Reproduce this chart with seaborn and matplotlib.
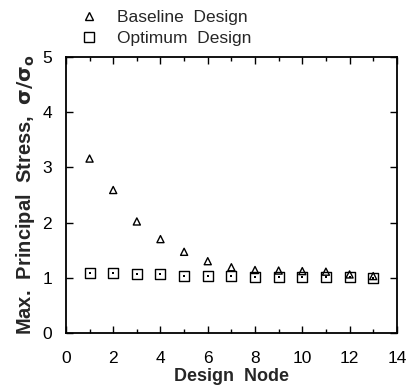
import matplotlib
matplotlib.use("Agg")
import matplotlib.pyplot as plt
import seaborn as sns
import pandas as pd
from matplotlib.ticker import MultipleLocator
from matplotlib.lines import Line2D

nodes = [1, 2, 3, 4, 5, 6, 7, 8, 9, 10, 11, 12, 13]
baseline = [3.16, 2.59, 2.02, 1.70, 1.47, 1.30, 1.19, 1.14, 1.13, 1.12, 1.11, 1.06, 1.03]
optimum = [1.08, 1.08, 1.07, 1.06, 1.04, 1.03, 1.03, 1.02, 1.02, 1.02, 1.02, 1.01, 1.00]

sns.set_theme(style="ticks")
plt.rcParams['font.family'] = ['Liberation Sans', 'DejaVu Sans']

df = pd.DataFrame({
    "node": nodes * 2,
    "value": baseline + optimum,
    "series": ["Baseline Design"] * len(nodes) + ["Optimum Design"] * len(nodes),
})

fig = plt.figure(figsize=(4.07, 3.88), dpi=100)
ax = fig.add_axes([0.162, 0.142, 0.813, 0.711])

sns.scatterplot(data=df[df.series == "Baseline Design"], x="node", y="value",
                marker="^", s=26, facecolor="none", edgecolor="black",
                linewidth=1.0, ax=ax, legend=False)
sns.scatterplot(data=df[df.series == "Optimum Design"], x="node", y="value",
                marker="s", s=52, facecolor="none", edgecolor="black",
                linewidth=1.0, ax=ax, legend=False)
sns.scatterplot(data=df[df.series == "Optimum Design"], x="node", y="value",
                marker="s", s=1.5, color="black", linewidth=0, ax=ax, legend=False)

ax.set_xlim(0, 14)
ax.set_ylim(0, 5)
ax.xaxis.set_major_locator(MultipleLocator(2))
ax.xaxis.set_minor_locator(MultipleLocator(1))
ax.yaxis.set_major_locator(MultipleLocator(1))
ax.tick_params(which="both", direction="in", top=True, right=True, labelsize=12.5,
               color="black", labelcolor="black")
ax.tick_params(axis="x", which="both", pad=13)
ax.tick_params(axis="y", which="both", pad=10)
ax.tick_params(which="major", length=5, width=1)
ax.tick_params(which="minor", length=3, width=1)
for sp in ax.spines.values():
    sp.set_linewidth(1.3)
    sp.set_color("black")

ax.set_xlabel("Design  Node", fontsize=13, fontweight="bold", labelpad=1.5)
ax.set_ylabel(r"Max.  Principal  Stress,  $\mathbf{\sigma/\sigma_o}$", fontsize=14.5,
              fontweight="bold", labelpad=4)

handles = [
    Line2D([], [], marker="^", linestyle="none", markerfacecolor="none",
           markeredgecolor="black", markersize=5.5),
    Line2D([], [], marker="s", linestyle="none", markerfacecolor="none",
           markeredgecolor="black", markersize=7),
]
fig.legend(handles, ["Baseline  Design", "Optimum  Design"], loc="upper left",
           bbox_to_anchor=(0.138, 1.015), frameon=False, fontsize=12.5,
           handletextpad=0.6, labelspacing=0.35)

fig.savefig("out.png", dpi=100)
